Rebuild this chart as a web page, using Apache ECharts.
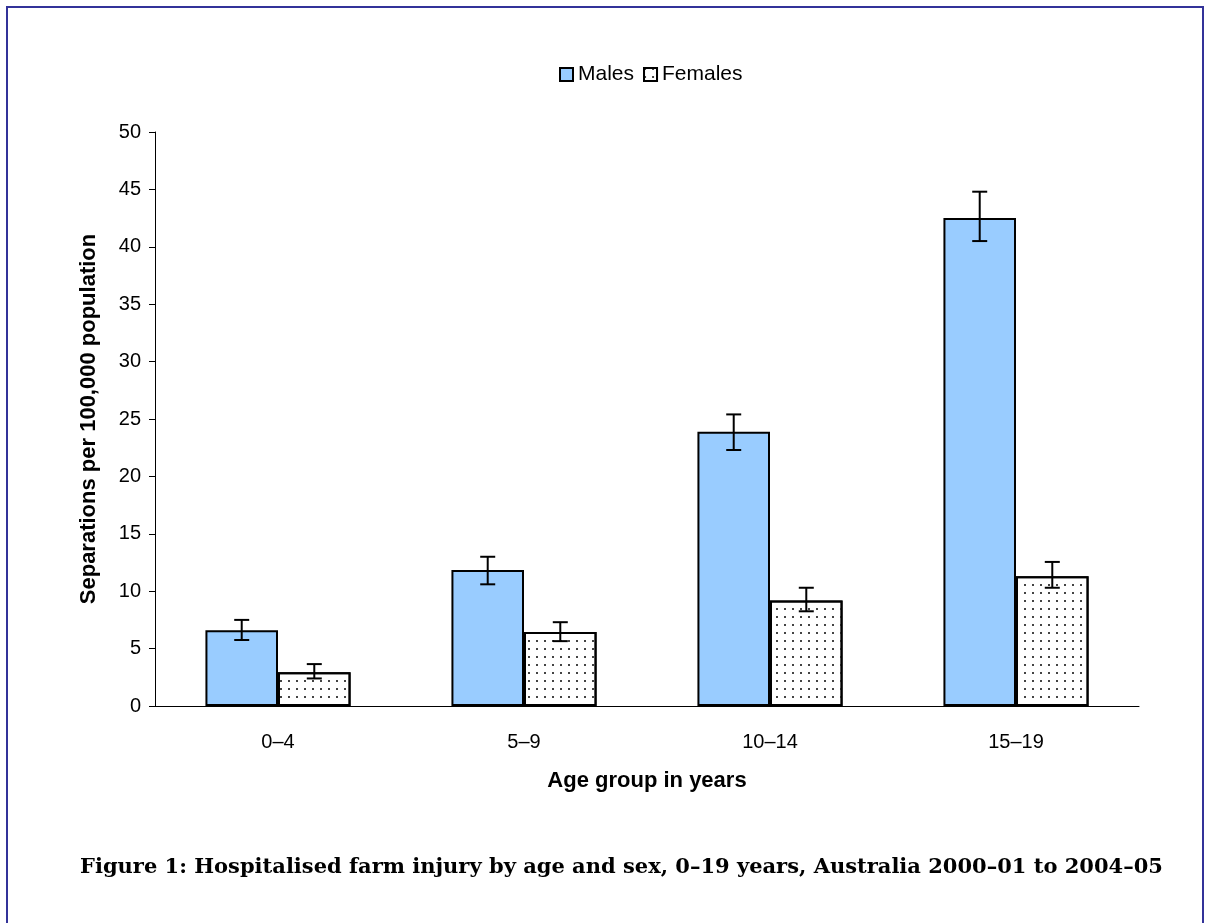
<!DOCTYPE html>
<html>
<head>
<meta charset="utf-8">
<script src="https://cdn.jsdelivr.net/npm/echarts@6/dist/echarts.min.js"></script>
<style>
  html, body { margin: 0; padding: 0; background: #fff; }
  #chart { width: 1207px; height: 923px; }
</style>
</head>
<body>
<div id="chart"></div>
<script>
// values
var ageGroups = ["0–4", "5–9", "10–14", "15–19"];
var males = [6.6, 11.85, 23.9, 42.5];
var malesLow = [5.75, 10.6, 22.3, 40.5];
var malesHigh = [7.5, 13.0, 25.4, 44.8];
var females = [2.95, 6.45, 9.2, 11.3];
var femalesLow = [2.4, 5.65, 8.25, 10.3];
var femalesHigh = [3.65, 7.3, 10.3, 12.55];

var chart = echarts.init(document.getElementById("chart"));

var dotDecal = {
  symbol: "rect",
  symbolSize: 1,
  color: "#444",
  dashArrayX: [2, 6],
  dashArrayY: [2, 6],
  rotation: 0
};

// error bar drawn on top of a bar; offset = -1 (left bar) or 1 (right bar)
function errorBar(offset) {
  return function (params, api) {
    var cat = api.value(0);
    var low = api.coord([cat, api.value(1)]);
    var high = api.coord([cat, api.value(2)]);
    var band = api.size([1, 0])[0];
    var barW = band * 0.59 / 2;
    var x = low[0] + offset * barW / 2;
    var cap = 7.5;
    var style = { stroke: "#000", lineWidth: 2 };
    return {
      type: "group",
      children: [
        { type: "line", shape: { x1: x, y1: high[1], x2: x, y2: low[1] }, style: style },
        { type: "line", shape: { x1: x - cap, y1: high[1], x2: x + cap, y2: high[1] }, style: style },
        { type: "line", shape: { x1: x - cap, y1: low[1], x2: x + cap, y2: low[1] }, style: style }
      ]
    };
  };
}

var option = {
  animation: false,
  backgroundColor: "#fff",
  textStyle: { fontFamily: "Liberation Sans, Arial, sans-serif" },
  graphic: [
    {
      type: "rect",
      shape: { x: 7, y: 7, width: 1196, height: 930 },
      style: { fill: "none", stroke: "#333399", lineWidth: 2 },
      silent: true
    },
    {
      type: "text",
      left: 80,
      top: 857,
      style: {
        text: "Figure 1: Hospitalised farm injury by age and sex, 0–19 years, Australia 2000–01 to 2004–05",
        font: "bold 21px 'DejaVu Serif', 'Liberation Serif', serif",
        fill: "#000"
      }
    }
  ],
  legend: {
    top: 59,
    left: 554,
    icon: "rect",
    itemWidth: 13,
    itemHeight: 13,
    itemGap: 9,
    textStyle: { fontSize: 21, color: "#000" },
    data: ["Males", "Females"]
  },
  grid: { left: 155, top: 132, right: 68, bottom: 217 },
  xAxis: {
    type: "category",
    data: ageGroups,
    name: "Age group in years",
    nameLocation: "middle",
    nameGap: 64,
    nameTextStyle: { fontSize: 22, fontWeight: "bold", color: "#000" },
    axisLine: { lineStyle: { color: "#000", width: 1 } },
    axisTick: { length: 6, lineStyle: { color: "#000" } },
    axisLabel: { fontSize: 20, color: "#000", margin: 26 }
  },
  yAxis: {
    type: "value",
    min: 0,
    max: 50,
    interval: 5,
    name: "Separations per 100,000 population",
    nameLocation: "middle",
    nameGap: 55,
    nameTextStyle: { fontSize: 22, fontWeight: "bold", color: "#000" },
    axisLine: { show: true, lineStyle: { color: "#000", width: 1 } },
    axisTick: { show: true, length: 6, lineStyle: { color: "#000" } },
    axisLabel: { fontSize: 20, color: "#000", margin: 14 },
    splitLine: { show: false }
  },
  series: [
    {
      name: "Males",
      type: "bar",
      data: males,
      barGap: "0%",
      barCategoryGap: "41%",
      itemStyle: { color: "#99ccff", borderColor: "#000", borderWidth: 2 }
    },
    {
      name: "Females",
      type: "bar",
      data: females,
      itemStyle: { color: "#fff", borderColor: "#000", borderWidth: 2, decal: dotDecal }
    },
    {
      name: "Males error",
      type: "custom",
      renderItem: errorBar(-1),
      data: ageGroups.map(function (c, i) { return [i, malesLow[i], malesHigh[i]]; }),
      z: 10
    },
    {
      name: "Females error",
      type: "custom",
      renderItem: errorBar(1),
      data: ageGroups.map(function (c, i) { return [i, femalesLow[i], femalesHigh[i]]; }),
      z: 10
    }
  ]
};

chart.setOption(option);
</script>
</body>
</html>
